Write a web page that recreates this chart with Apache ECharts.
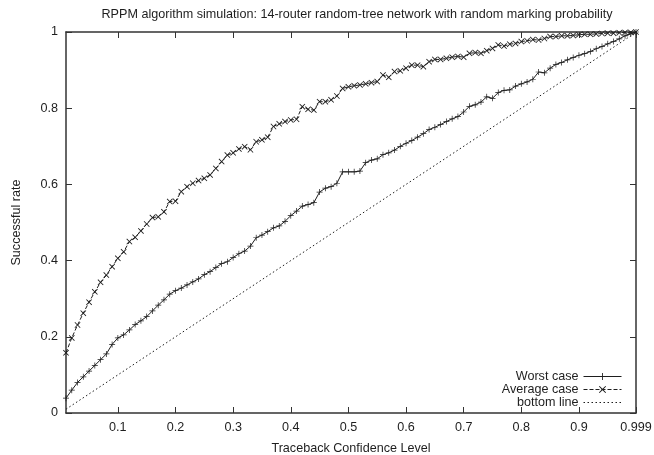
<!DOCTYPE html>
<html>
<head>
<meta charset="utf-8">
<script src="https://cdn.jsdelivr.net/npm/echarts@6/dist/echarts.min.js"></script>
<style>
  html, body { margin: 0; padding: 0; background: #fff; }
  #chart { width: 654px; height: 455px; }
</style>
</head>
<body>
<div id="chart"></div>
<script>
// Traceback confidence levels (x axis samples)
const confidenceLevels = [
  0.01, 0.02, 0.03, 0.04, 0.05, 0.06, 0.07, 0.08, 0.09, 0.10,
  0.11, 0.12, 0.13, 0.14, 0.15, 0.16, 0.17, 0.18, 0.19, 0.20,
  0.21, 0.22, 0.23, 0.24, 0.25, 0.26, 0.27, 0.28, 0.29, 0.30,
  0.31, 0.32, 0.33, 0.34, 0.35, 0.36, 0.37, 0.38, 0.39, 0.40,
  0.41, 0.42, 0.43, 0.44, 0.45, 0.46, 0.47, 0.48, 0.49, 0.50,
  0.51, 0.52, 0.53, 0.54, 0.55, 0.56, 0.57, 0.58, 0.59, 0.60,
  0.61, 0.62, 0.63, 0.64, 0.65, 0.66, 0.67, 0.68, 0.69, 0.70,
  0.71, 0.72, 0.73, 0.74, 0.75, 0.76, 0.77, 0.78, 0.79, 0.80,
  0.81, 0.82, 0.83, 0.84, 0.85, 0.86, 0.87, 0.88, 0.89, 0.90,
  0.91, 0.92, 0.93, 0.94, 0.95, 0.96, 0.97, 0.98, 0.99, 0.999
];

// Successful rate, worst case
const worstCase = [
  0.039, 0.060, 0.080, 0.095, 0.110, 0.125, 0.140, 0.155, 0.180, 0.197,
  0.205, 0.218, 0.232, 0.242, 0.253, 0.268, 0.283, 0.297, 0.312, 0.321,
  0.328, 0.336, 0.344, 0.352, 0.363, 0.371, 0.382, 0.392, 0.397, 0.408,
  0.418, 0.425, 0.438, 0.460, 0.467, 0.476, 0.486, 0.491, 0.503, 0.518,
  0.530, 0.543, 0.547, 0.552, 0.580, 0.590, 0.594, 0.603, 0.633, 0.633,
  0.633, 0.635, 0.657, 0.664, 0.667, 0.678, 0.683, 0.690, 0.700, 0.708,
  0.715, 0.724, 0.733, 0.744, 0.750, 0.757, 0.765, 0.772, 0.778, 0.790,
  0.805, 0.809, 0.816, 0.830, 0.826, 0.841, 0.847, 0.848, 0.858, 0.864,
  0.869, 0.876, 0.895, 0.893, 0.905, 0.915, 0.920, 0.927, 0.933, 0.939,
  0.943, 0.949, 0.956, 0.962, 0.969, 0.975, 0.982, 0.990, 0.995, 1.000
];

// Successful rate, average case
const averageCase = [
  0.158, 0.197, 0.231, 0.262, 0.291, 0.318, 0.343, 0.362, 0.384, 0.406,
  0.423, 0.450, 0.461, 0.478, 0.496, 0.513, 0.515, 0.528, 0.555, 0.556,
  0.581, 0.594, 0.603, 0.610, 0.616, 0.625, 0.642, 0.660, 0.677, 0.683,
  0.693, 0.699, 0.691, 0.712, 0.717, 0.724, 0.752, 0.759, 0.765, 0.769,
  0.771, 0.804, 0.797, 0.795, 0.817, 0.817, 0.822, 0.832, 0.852, 0.856,
  0.859, 0.861, 0.864, 0.867, 0.870, 0.887, 0.881, 0.896, 0.898, 0.905,
  0.913, 0.913, 0.909, 0.922, 0.928, 0.928, 0.931, 0.934, 0.936, 0.934,
  0.944, 0.946, 0.944, 0.951, 0.957, 0.966, 0.963, 0.968, 0.970, 0.975,
  0.977, 0.980, 0.979, 0.983, 0.988, 0.988, 0.990, 0.990, 0.991, 0.993,
  0.994, 0.994, 0.995, 0.996, 0.997, 0.997, 0.998, 0.999, 0.999, 1.000
];

// Bottom line: successful rate equal to the confidence level (end points)
const bottomLineX = [0.01, 0.999];

// Tick positions on the confidence axis
const xTicks = [0.1, 0.2, 0.3, 0.4, 0.5, 0.6, 0.7, 0.8, 0.9, 0.999];
const xMin = 0.01, xMax = 0.999;

const FONT = 'Liberation Sans, Arial, sans-serif';
const FS = 12.6;
const INK = '#1e1e1e';
const AXIS = '#333';

const plusSymbol = 'path://M4.4,0h1.2v4.4h4.4v1.2h-4.4v4.4h-1.2v-4.4h-4.4v-1.2h4.4z';
const crossSymbol = 'path://M0,1L1,0L5,4L9,0L10,1L6,5L10,9L9,10L5,6L1,10L0,9L4,5Z';

const zip = (xs, ys) => xs.map((x, i) => [x, ys[i]]);

const chart = echarts.init(document.getElementById('chart'), null, { renderer: 'canvas' });

const baseX = {
  type: 'value', min: xMin, max: xMax,
  axisLine: { show: true, onZero: false, lineStyle: { color: AXIS, width: 1.5 } },
  axisTick: { show: true, inside: true, length: 6, customValues: xTicks, lineStyle: { color: AXIS, width: 1 } },
  splitLine: { show: false }
};
const baseY = {
  type: 'value', min: 0, max: 1, interval: 0.2,
  axisLine: { show: true, onZero: false, lineStyle: { color: AXIS, width: 1.5 } },
  axisTick: { show: true, inside: true, length: 6, lineStyle: { color: AXIS, width: 1 } },
  splitLine: { show: false }
};

chart.setOption({
  animation: false,
  backgroundColor: '#fff',
  title: {
    text: 'RPPM algorithm simulation: 14-router random-tree network with random marking probability',
    left: 352, top: 3, textAlign: 'center',
    textStyle: { fontFamily: FONT, fontSize: FS, fontWeight: 'normal', color: INK }
  },
  grid: { left: 66, right: 18, top: 32, bottom: 42, containLabel: false, outerBoundsMode: 'none' },
  legend: {
    orient: 'vertical', right: 32, top: 370, align: 'right',
    itemWidth: 38, itemHeight: 9, itemGap: 0, padding: 0,
    lineStyle: { width: 1 },
    textStyle: { fontFamily: FONT, fontSize: FS, color: INK, lineHeight: 11 },
    data: ['Worst case', 'Average case', 'bottom line']
  },
  xAxis: [
    Object.assign({}, baseX, {
      position: 'bottom',
      name: 'Traceback Confidence Level', nameLocation: 'middle', nameGap: 29,
      nameTextStyle: { fontFamily: FONT, fontSize: FS, color: INK },
      axisLabel: {
        show: true, margin: 8, customValues: xTicks,
        fontFamily: FONT, fontSize: FS, color: INK,
        formatter: v => String(v)
      }
    }),
    Object.assign({}, baseX, { position: 'top', axisLabel: { show: false } })
  ],
  yAxis: [
    Object.assign({}, baseY, {
      position: 'left',
      name: 'Successful rate', nameLocation: 'middle', nameGap: 43,
      nameTextStyle: { fontFamily: FONT, fontSize: FS, color: INK },
      axisLabel: {
        show: true, margin: 8, fontFamily: FONT, fontSize: FS, color: INK,
        formatter: v => String(Math.round(v * 10) / 10)
      }
    }),
    Object.assign({}, baseY, { position: 'right', axisLabel: { show: false } })
  ],
  series: [
    {
      name: 'Worst case', type: 'line', xAxisIndex: 0, yAxisIndex: 0,
      data: zip(confidenceLevels, worstCase),
      showAllSymbol: true, symbol: plusSymbol, symbolSize: 6,
      itemStyle: { color: INK },
      lineStyle: { color: INK, width: 1 }
    },
    {
      name: 'Average case', type: 'line', xAxisIndex: 0, yAxisIndex: 0,
      data: zip(confidenceLevels, averageCase),
      showAllSymbol: true, symbol: crossSymbol, symbolSize: 6,
      itemStyle: { color: INK },
      lineStyle: { color: INK, width: 1, type: [4, 2] }
    },
    {
      name: 'bottom line', type: 'line', xAxisIndex: 0, yAxisIndex: 0,
      data: zip(bottomLineX, bottomLineX),
      symbol: 'none',
      itemStyle: { color: INK, opacity: 0 },
      lineStyle: { color: INK, width: 1, type: [1.5, 2.5], opacity: 1 }
    }
  ]
});
</script>
</body>
</html>
